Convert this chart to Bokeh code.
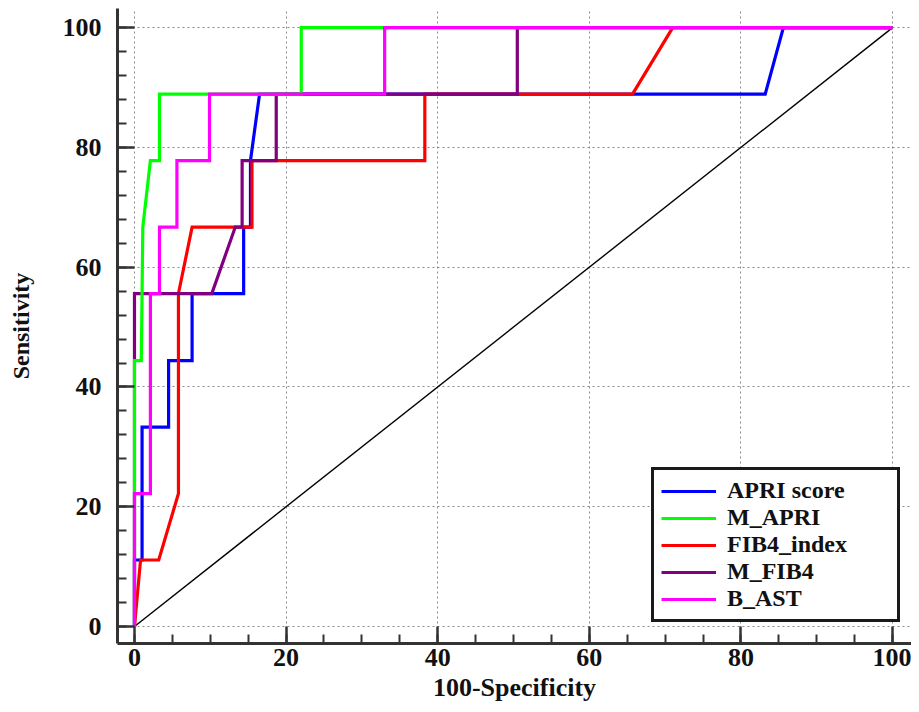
from bokeh.plotting import figure
from bokeh.models import SingleIntervalTicker, Legend, LegendItem
from bokeh.embed import file_html
from bokeh.resources import INLINE

# ROC curves (x = 100-Specificity, y = Sensitivity)
apri_x = [0, 0, 1.0, 1.0, 4.5, 4.5, 7.6, 7.6, 14.4, 14.4, 15.3, 15.3, 16.5, 83.2, 85.6, 100]
apri_y = [0, 11.1, 11.1, 33.3, 33.3, 44.4, 44.4, 55.6, 55.6, 66.7, 66.7, 77.8, 88.9, 88.9, 100, 100]

mapri_x = [0, 0, 0.9, 1.1, 2.1, 3.3, 3.3, 22.0, 22.0, 100]
mapri_y = [0, 44.4, 44.4, 66.7, 77.8, 77.8, 88.9, 88.9, 100, 100]

fib4_x = [0, 0.8, 3.2, 5.8, 5.8, 7.6, 15.5, 15.5, 38.3, 38.3, 65.7, 71.0, 100]
fib4_y = [0, 11.1, 11.1, 22.2, 55.6, 66.7, 66.7, 77.8, 77.8, 88.9, 88.9, 100, 100]

mfib4_x = [0, 0, 10.2, 13.3, 14.2, 14.2, 18.7, 18.7, 50.5, 50.5, 100]
mfib4_y = [0, 55.6, 55.6, 66.7, 66.7, 77.8, 77.8, 88.9, 88.9, 100, 100]

bast_x = [0, 0, 2.1, 2.1, 3.3, 3.3, 5.6, 5.6, 9.9, 9.9, 33.0, 33.0, 100]
bast_y = [0, 22.2, 22.2, 55.6, 55.6, 66.7, 66.7, 77.8, 77.8, 88.9, 88.9, 100, 100]

ref_x = [0, 100]
ref_y = [0, 100]

series_names = ["APRI score", "M_APRI", "FIB4_index", "M_FIB4", "B_AST"]
series_colors = ["#0000FF", "#00FF00", "#FF0000", "#800080", "#FF00FF"]

FONT = "Liberation Serif"

p = figure(width=911, height=704, output_backend="svg", toolbar_location=None,
           x_range=(-2.24, 102.5), y_range=(-2.84, 103.2),
           min_border_left=117, min_border_right=0, min_border_top=8, min_border_bottom=61)
p.outline_line_color = None
p.background_fill_color = "white"

# grid
for g in (p.xgrid, p.ygrid):
    g.grid_line_color = "#8a8a8a"
    g.grid_line_dash = "2 3"
    g.grid_line_width = 1

# axes
p.xaxis.ticker = SingleIntervalTicker(interval=20, num_minor_ticks=4)
p.yaxis.ticker = SingleIntervalTicker(interval=20, num_minor_ticks=5)
for ax in (p.xaxis, p.yaxis):
    ax.axis_line_width = 3
    ax.axis_line_color = "#333333"
    ax.major_tick_line_color = "#333333"
    ax.major_tick_line_width = 2.5
    ax.minor_tick_line_color = "#333333"
    ax.minor_tick_line_width = 2
    ax.major_tick_in = 17
    ax.major_tick_out = 0
    ax.minor_tick_in = 9
    ax.minor_tick_out = 0
    ax.major_label_text_font = FONT
    ax.major_label_text_font_style = "bold"
    ax.major_label_text_font_size = "26px"
    ax.major_label_text_color = "#111111"
    ax.axis_label_text_font = FONT
    ax.axis_label_text_font_style = "bold"
    ax.axis_label_text_color = "#111111"

p.xaxis.axis_label = "100-Specificity"
p.xaxis.axis_label_text_font_size = "26px"
p.xaxis.major_label_standoff = 5
p.xaxis.axis_label_standoff = 4
p.yaxis.axis_label = "Sensitivity"
p.yaxis.axis_label_text_font_size = "24px"
p.yaxis.major_label_standoff = 16
p.yaxis.axis_label_standoff = 26

# diagonal reference
p.line(ref_x, ref_y, line_color="black", line_width=1.4)

xs = [apri_x, mapri_x, fib4_x, mfib4_x, bast_x]
ys = [apri_y, mapri_y, fib4_y, mfib4_y, bast_y]
renderers = {}
# drawing order: blue, red, purple, green, magenta
for i in [0, 2, 3, 1, 4]:
    renderers[i] = p.line(xs[i], ys[i], line_color=series_colors[i], line_width=3.2,
                          line_join="miter")

legend = Legend(items=[LegendItem(label=series_names[i], renderers=[renderers[i]]) for i in range(5)],
                location=(534, 21))
legend.border_line_color = "#1a1a1a"
legend.border_line_width = 3
legend.border_line_alpha = 1
legend.background_fill_color = "white"
legend.background_fill_alpha = 1
legend.label_text_font = FONT
legend.label_text_font_style = "bold"
legend.label_text_font_size = "24px"
legend.label_text_color = "#111111"
legend.padding = 7
legend.spacing = 0
legend.glyph_width = 55
legend.glyph_height = 26
legend.label_height = 26
legend.label_width = 163
legend.label_standoff = 11
legend.margin = 0
p.add_layout(legend, "center")

open("out.html", "w").write(file_html(p, INLINE))
